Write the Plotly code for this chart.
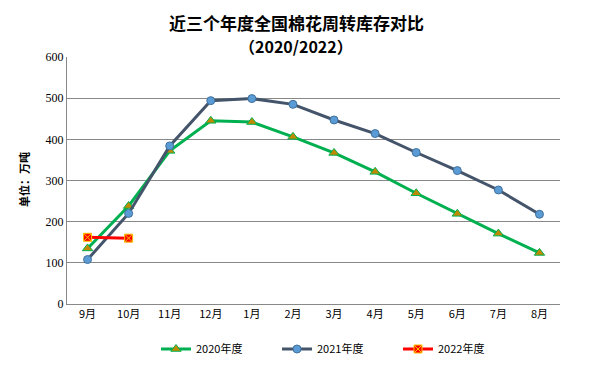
import plotly.graph_objects as go

months = ["9月", "10月", "11月", "12月", "1月", "2月", "3月", "4月", "5月", "6月", "7月", "8月"]
y2020 = [135, 238, 372, 445, 442, 406, 367, 321, 269, 219, 171, 124]
y2021 = [108, 220, 384, 494, 499, 485, 447, 414, 368, 324, 277, 218]
y2022 = [162, 160]

FONT = "Noto Sans CJK SC"
OFF = 8  # page body margin
W, H = 594, 370
L, R, T, B = 67 - OFF, W - (560 - OFF), 57 - OFF, H - (304 - OFF)
PW, PH = W - L - R, H - T - B


def py(pix):
    return (H - B - (pix - OFF)) / PH


def px(pix):
    return ((pix - OFF) - L) / PW


fig = go.Figure()
fig.add_trace(go.Scatter(
    x=months, y=y2020, name="2020年度", mode="lines+markers",
    line=dict(color="#00B050", width=3),
    marker=dict(symbol="triangle-up", size=9, color="#C08A00",
                line=dict(color="#00B050", width=1)),
))
fig.add_trace(go.Scatter(
    x=months, y=y2021, name="2021年度", mode="lines+markers",
    line=dict(color="#44546A", width=3),
    marker=dict(symbol="circle", size=8, color="#5B9BD5",
                line=dict(color="#41719C", width=1)),
))
fig.add_trace(go.Scatter(
    x=months[:len(y2022)], y=y2022, name="2022年度", mode="lines+markers",
    line=dict(color="#FF0000", width=3),
    marker=dict(symbol="square-x", size=8, color="#FF0000",
                line=dict(color="#FFC000", width=1)),
))

fig.update_layout(
    width=W, height=H,
    margin=dict(l=L, r=R, t=T, b=B, autoexpand=False),
    paper_bgcolor="white", plot_bgcolor="white",
    font=dict(family=FONT, size=11, color="black"),
    showlegend=True,
    legend=dict(orientation="h", x=px(156), xanchor="left", y=py(349), yanchor="middle",
                font=dict(family=FONT, size=11), itemwidth=30,
                entrywidth=76, entrywidthmode="pixels",
                traceorder="normal"),
    xaxis=dict(
        type="category", categoryorder="array", categoryarray=months,
        range=[-0.5, 11.5], showgrid=False, showline=True, linecolor="#888888",
        linewidth=1, ticks="", tickfont=dict(size=11, family=FONT), automargin=False,
    ),
    yaxis=dict(
        range=[0, 600], dtick=100, showgrid=True, gridcolor="#888888", gridwidth=1,
        showline=True, linecolor="#888888", linewidth=1, zeroline=False,
        ticks="", tickfont=dict(size=12, family="Liberation Serif"), automargin=False,
    ),
    annotations=[
        dict(text="<b>近三个年度全国棉花周转库存对比</b>", xref="paper", yref="paper",
             x=px(296), y=py(22), xanchor="center", yanchor="middle", showarrow=False,
             font=dict(family=FONT, size=17, color="black")),
        dict(text="<b>（2020/2022）</b>", xref="paper", yref="paper",
             x=px(296), y=py(46), xanchor="center", yanchor="middle", showarrow=False,
             font=dict(family=FONT, size=16, color="black")),
        dict(text="<b>单位：万吨</b>", xref="paper", yref="paper",
             x=px(24), y=py(180), xanchor="center", yanchor="middle",
             textangle=-90, showarrow=False,
             font=dict(family=FONT, size=11, color="black")),
    ],
)

fig.write_html("out.html")
